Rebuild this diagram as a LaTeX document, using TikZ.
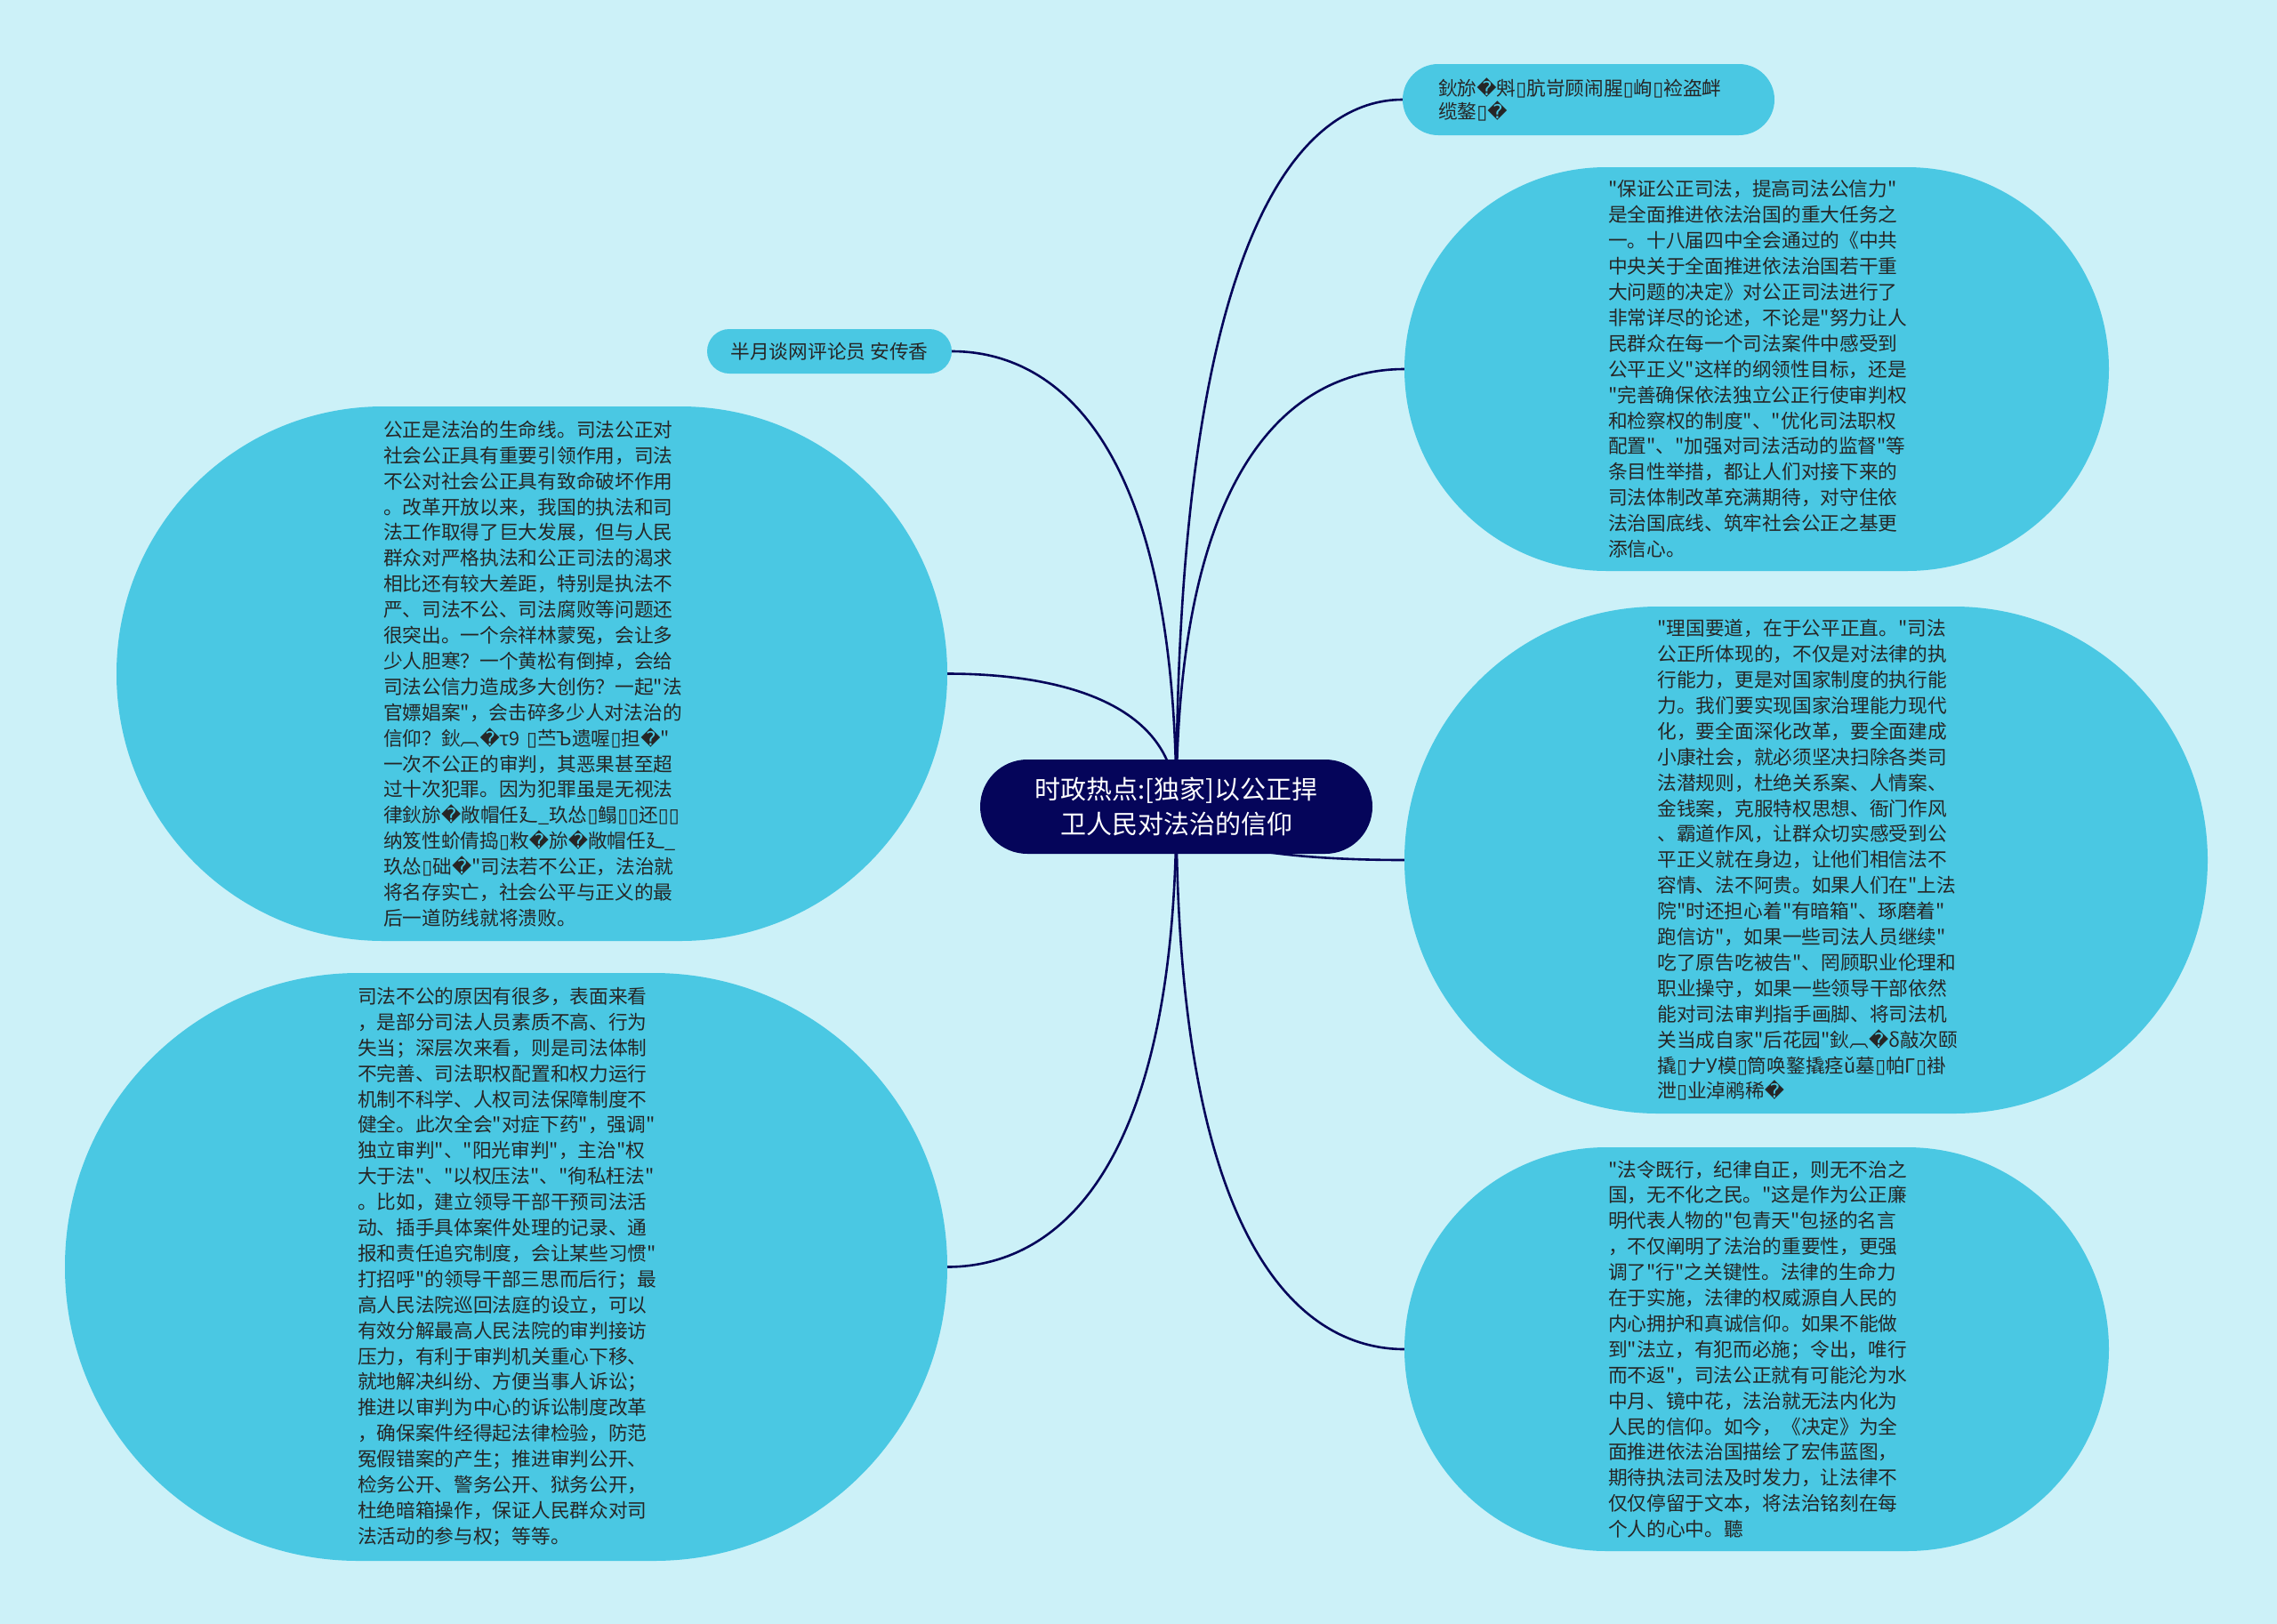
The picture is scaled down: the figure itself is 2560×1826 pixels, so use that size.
\documentclass[tikz,border=0pt]{standalone}
\usepackage{fontspec}
\newfontfamily\cjkfont{Noto Sans CJK SC}
\newfontfamily\djv{DejaVu Sans}
\usetikzlibrary{calc}
\pgfdeclarelayer{behind}
\pgfsetlayers{behind,main}
\definecolor{bgc}{HTML}{CCF1F8}
\definecolor{blobc}{HTML}{4AC8E3}
\definecolor{navyc}{HTML}{05055A}
\definecolor{txtc}{HTML}{262626}
\newcommand\rc{{\djv\char"FFFD}}
\newcommand\tb{{\djv\char"25AF}}
\newcommand\conn[1]{\draw[link] (root.center) .. controls ($(root.center|-#1)!0.15!(root.center)$) and ($(#1)!0.4!(root.center|-#1)$) .. (#1);}
\tikzset{
 blob/.style={fill=blobc, inner sep=0pt, text=txtc, align=left, text width=334pt, font=\cjkfont\fontsize{21.7pt}{28.9pt}\selectfont},
 pill/.style={fill=blobc, inner sep=0pt, text=txtc, font=\cjkfont\fontsize{21.7pt}{26.7pt}\selectfont},
 rootbox/.style={fill=navyc, text=white, inner sep=0pt, align=center, font=\cjkfont\fontsize{29pt}{39pt}\selectfont},
 link/.style={draw=navyc, line width=2.6pt},
}
\begin{document}
\begin{tikzpicture}[x=1pt,y=-1pt]
\useasboundingbox (0,0) rectangle (2560,1826);

\node[rootbox, minimum width=441pt, minimum height=106pt, rounded corners=53pt] (root) at (1322.5,907) {时政热点:[独家]以公正捍\\卫人民对法治的信仰};

\node[pill, minimum width=275pt, minimum height=50pt, rounded corners=25pt] (hb) at (932.5,395) {半月谈网评论员 安传香};

\node[pill, minimum width=418pt, minimum height=80pt, rounded corners=40pt, align=left, text width=338pt] (sn) at (1786,112) {鈥旀\rc{}斞\tb{}肮岢顾闹腥\tb{}峋\tb{}裣盗衅\\缆鏊\tb\rc};

\node[blob, minimum width=792pt, minimum height=454pt, rounded corners=227pt] (tr) at (1975,415) {"保证公正司法，提高司法公信力"\\
是全面推进依法治国的重大任务之\\
一。十八届四中全会通过的《中共\\
中央关于全面推进依法治国若干重\\
大问题的决定》对公正司法进行了\\
非常详尽的论述，不论是"努力让人\\
民群众在每一个司法案件中感受到\\
公平正义"这样的纲领性目标，还是\\
"完善确保依法独立公正行使审判权\\
和检察权的制度"、"优化司法职权\\
配置"、"加强对司法活动的监督"等\\
条目性举措，都让人们对接下来的\\
司法体制改革充满期待，对守住依\\
法治国底线、筑牢社会公正之基更\\
添信心。};

\node[blob, minimum width=903pt, minimum height=570pt, rounded corners=285pt] (rm) at (2030.5,967) {"理国要道，在于公平正直。"司法\\
公正所体现的，不仅是对法律的执\\
行能力，更是对国家制度的执行能\\
力。我们要实现国家治理能力现代\\
化，要全面深化改革，要全面建成\\
小康社会，就必须坚决扫除各类司\\
法潜规则，杜绝关系案、人情案、\\
金钱案，克服特权思想、衙门作风\\
、霸道作风，让群众切实感受到公\\
平正义就在身边，让他们相信法不\\
容情、法不阿贵。如果人们在"上法\\
院"时还担心着"有暗箱"、琢磨着"\\
跑信访"，如果一些司法人员继续"\\
吃了原告吃被告"、罔顾职业伦理和\\
职业操守，如果一些领导干部依然\\
能对司法审判指手画脚、将司法机\\
关当成自家"后花园"鈥︹\rc{}δ敲次颐\\
撬\tb{}ナУ模\tb{}筒唤鐜撬痉ǔ墓\tb{}帕Γ\tb{}褂\\
泄\tb{}业淖鹇稀\rc};

\node[blob, minimum width=792pt, minimum height=454pt, rounded corners=227pt] (br) at (1975,1517) {"法令既行，纪律自正，则无不治之\\
国，无不化之民。"这是作为公正廉\\
明代表人物的"包青天"包拯的名言\\
，不仅阐明了法治的重要性，更强\\
调了"行"之关键性。法律的生命力\\
在于实施，法律的权威源自人民的\\
内心拥护和真诚信仰。如果不能做\\
到"法立，有犯而必施；令出，唯行\\
而不返"，司法公正就有可能沦为水\\
中月、镜中花，法治就无法内化为\\
人民的信仰。如今，《决定》为全\\
面推进依法治国描绘了宏伟蓝图，\\
期待执法司法及时发力，让法律不\\
仅仅停留于文本，将法治铭刻在每\\
个人的心中。聽};

\node[blob, minimum width=934pt, minimum height=601pt, rounded corners=300pt] (lt) at (598,757.5) {公正是法治的生命线。司法公正对\\
社会公正具有重要引领作用，司法\\
不公对社会公正具有致命破坏作用\\
。改革开放以来，我国的执法和司\\
法工作取得了巨大发展，但与人民\\
群众对严格执法和公正司法的渴求\\
相比还有较大差距，特别是执法不\\
严、司法不公、司法腐败等问题还\\
很突出。一个佘祥林蒙冤，会让多\\
少人胆寒？一个黄松有倒掉，会给\\
司法公信力造成多大创伤？一起"法\\
官嫖娼案"，会击碎多少人对法治的\\
信仰？鈥︹\rc{}τ9 \tb{}苎Ъ遗喔\tb{}担\rc{}"\\
一次不公正的审判，其恶果甚至超\\
过十次犯罪。因为犯罪虽是无视法\\
律鈥旀\rc{}敞帽任廴\_玖怂\tb{}鳎\tb\tb{}还\tb\tb\\
纳笈性蚧倩捣\tb{}敉\rc{}旀\rc{}敞帽任廴\_\\
玖怂\tb{}础\rc{}"司法若不公正，法治就\\
将名存实亡，社会公平与正义的最\\
后一道防线就将溃败。};

\node[blob, minimum width=992pt, minimum height=661pt, rounded corners=330pt] (lb) at (569,1424.5) {司法不公的原因有很多，表面来看\\
，是部分司法人员素质不高、行为\\
失当；深层次来看，则是司法体制\\
不完善、司法职权配置和权力运行\\
机制不科学、人权司法保障制度不\\
健全。此次全会"对症下药"，强调"\\
独立审判"、"阳光审判"，主治"权\\
大于法"、"以权压法"、"徇私枉法"\\
。比如，建立领导干部干预司法活\\
动、插手具体案件处理的记录、通\\
报和责任追究制度，会让某些习惯"\\
打招呼"的领导干部三思而后行；最\\
高人民法院巡回法庭的设立，可以\\
有效分解最高人民法院的审判接访\\
压力，有利于审判机关重心下移、\\
就地解决纠纷、方便当事人诉讼；\\
推进以审判为中心的诉讼制度改革\\
，确保案件经得起法律检验，防范\\
冤假错案的产生；推进审判公开、\\
检务公开、警务公开、狱务公开，\\
杜绝暗箱操作，保证人民群众对司\\
法活动的参与权；等等。};

\begin{pgfonlayer}{behind}
\fill[bgc] (0,0) rectangle (2560,1826);
\conn{hb.east}
\conn{sn.west}
\conn{tr.west}
\conn{lt.east}
\conn{rm.west}
\conn{lb.east}
\conn{br.west}
\end{pgfonlayer}
\end{tikzpicture}
\end{document}
